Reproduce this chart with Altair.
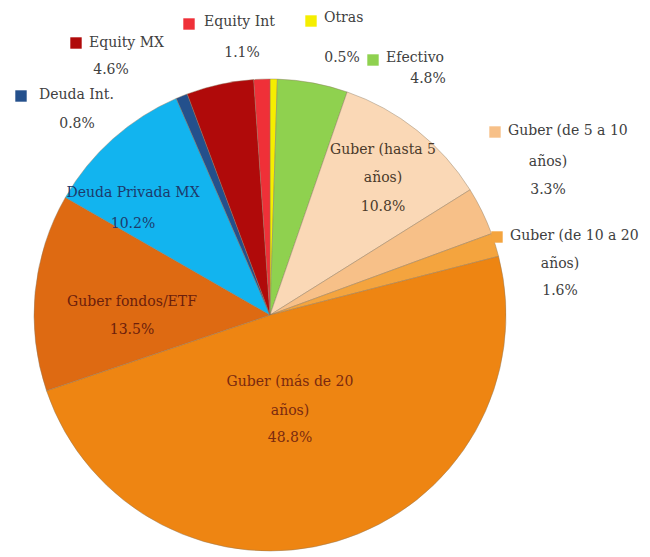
import altair as alt
import pandas as pd

# ---- data ----
categories = ["Otras", "Efectivo", "Guber (hasta 5 años)", "Guber (de 5 a 10 años)",
              "Guber (de 10 a 20 años)", "Guber (más de 20 años)", "Guber fondos/ETF",
              "Deuda Privada MX", "Deuda Int.", "Equity MX", "Equity Int"]
values = [0.5, 4.8, 10.8, 3.3, 1.6, 48.8, 13.5, 10.2, 0.8, 4.6, 1.1]
colors = ["#f5ee00", "#8fd14f", "#fad8b6", "#f7c088", "#f4a43e", "#ee8512",
          "#de6a12", "#12b4ef", "#24508c", "#b00a0a", "#ef3038"]

# ---- layout (reference-pixel anchors for labels; not data) ----
OFF = 8
CX, CY, R = 270, 315, 236
GRAY = "#404040"
label_layout = {
    "Equity MX": dict(sq=(76, 43), lines=[("Equity MX", 89, 43, "left")], pct=(111, 70), color=GRAY),
    "Equity Int": dict(sq=(189, 24), lines=[("Equity Int", 204, 22, "left")], pct=(242, 53), color=GRAY),
    "Otras": dict(sq=(311, 21), lines=[("Otras", 324, 18, "left")], pct=(342, 58), color=GRAY),
    "Efectivo": dict(sq=(373, 60), lines=[("Efectivo", 386, 58, "left")], pct=(428, 79), color=GRAY),
    "Deuda Int.": dict(sq=(21, 96), lines=[("Deuda Int.", 39, 95, "left")], pct=(77, 124), color=GRAY),
    "Deuda Privada MX": dict(sq=None, lines=[("Deuda Privada MX", 133, 193, "center")], pct=(133, 224), color="#1d3a6b"),
    "Guber fondos/ETF": dict(sq=None, lines=[("Guber fondos/ETF", 132, 302, "center")], pct=(132, 330), color="#6b1e0c"),
    "Guber (más de 20 años)": dict(sq=None, lines=[("Guber (más de 20", 290, 382, "center"), ("años)", 290, 411, "center")], pct=(290, 438), color="#7a2a10"),
    "Guber (hasta 5 años)": dict(sq=None, lines=[("Guber (hasta 5", 383, 150, "center"), ("años)", 383, 178, "center")], pct=(383, 207), color="#4a3a2a"),
    "Guber (de 5 a 10 años)": dict(sq=(495, 132), lines=[("Guber (de 5 a 10", 508, 131, "left"), ("años)", 548, 162, "center")], pct=(548, 190), color=GRAY),
    "Guber (de 10 a 20 años)": dict(sq=(497, 237), lines=[("Guber (de 10 a 20", 510, 236, "left"), ("años)", 560, 264, "center")], pct=(560, 291), color=GRAY),
}

pie_df = pd.DataFrame({"cat": categories, "val": values, "idx": list(range(len(categories)))})

text_rows, sq_rows = [], []
for cat, v in zip(categories, values):
    lay = label_layout[cat]
    for (t, x, y, al) in lay["lines"]:
        text_rows.append(dict(text=t, x=x - OFF, y=y - OFF, align=al, color=lay["color"]))
    px, py = lay["pct"]
    text_rows.append(dict(text=f"{v:.1f}%", x=px - OFF, y=py - OFF, align="center", color=lay["color"]))
    if lay["sq"] is not None:
        sq_rows.append(dict(cat=cat, x=lay["sq"][0] - OFF, y=lay["sq"][1] - OFF))
text_df = pd.DataFrame(text_rows)
sq_df = pd.DataFrame(sq_rows)

color_scale = alt.Scale(domain=categories, range=colors)

pie = alt.Chart(pie_df).mark_arc(radius=R, stroke="#8c7a60", strokeWidth=0.8, strokeOpacity=0.55).encode(
    theta=alt.Theta("val:Q", stack=True),
    order=alt.Order("idx:Q"),
    color=alt.Color("cat:N", scale=color_scale, legend=None),
    x=alt.value(CX - OFF),
    y=alt.value(CY - OFF),
)

font = "DejaVu Serif"
def text_layer(align):
    return alt.Chart(text_df[text_df["align"] == align]).mark_text(
        font=font, fontSize=14, align=align, baseline="middle"
    ).encode(
        x=alt.X("x:Q", scale=None, axis=None),
        y=alt.Y("y:Q", scale=None, axis=None),
        text="text:N",
        color=alt.Color("color:N", scale=None),
    )

squares = alt.Chart(sq_df).mark_square(size=130, opacity=1).encode(
    x=alt.X("x:Q", scale=None, axis=None),
    y=alt.Y("y:Q", scale=None, axis=None),
    color=alt.Color("cat:N", scale=color_scale, legend=None),
)

chart = alt.layer(pie, squares, text_layer("left"), text_layer("center")).properties(
    width=634, height=541, padding=0
).configure_view(stroke=None)

chart.save("out.html", embed_options={"renderer": "svg", "actions": False})
